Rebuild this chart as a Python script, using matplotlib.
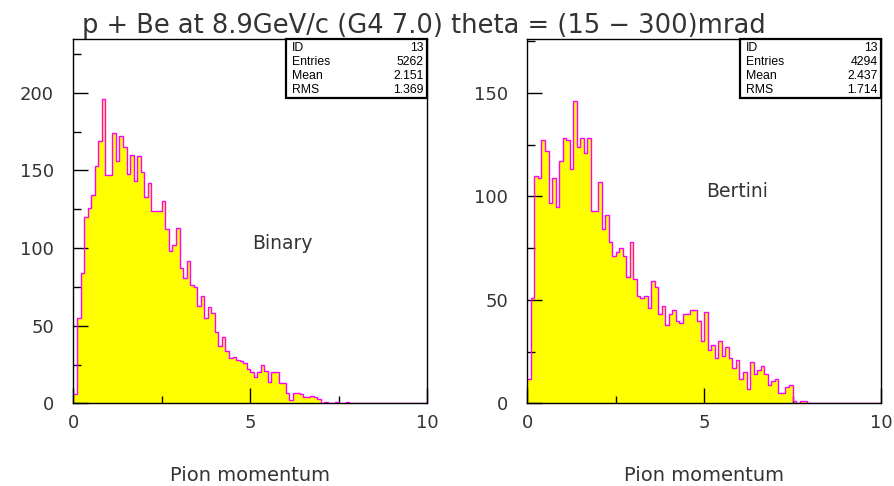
import matplotlib
matplotlib.use("Agg")
import matplotlib.pyplot as plt
import numpy as np
from matplotlib.patches import Rectangle
from matplotlib.ticker import MultipleLocator

edges = np.linspace(0, 10, 101)

# Binary cascade, counts per 0.1 GeV/c bin
binary_counts = [
    6, 55, 84, 120, 126, 134, 153, 169, 196, 147,
    147, 174, 156, 172, 165, 148, 160, 143, 159, 149,
    133, 142, 124, 124, 124, 130, 112, 98, 102, 113,
    87, 81, 92, 76, 75, 63, 69, 55, 62, 58,
    46, 37, 43, 34, 29, 30, 28, 27, 26, 22,
    20, 17, 20, 25, 21, 14, 20, 20, 13, 13,
    7, 2, 7, 7, 6, 4, 4, 5, 4, 3,
    0, 1, 0, 0, 1, 0, 0, 1, 0, 0,
] + [0] * 20

# Bertini cascade
bertini_counts = [
    12, 51, 110, 109, 127, 122, 97, 109, 95, 117,
    128, 127, 113, 146, 124, 128, 121, 128, 93, 93,
    107, 84, 91, 78, 71, 73, 75, 71, 61, 78,
    60, 52, 51, 52, 46, 59, 56, 43, 47, 38,
    43, 45, 40, 39, 43, 43, 45, 45, 40, 30,
    44, 26, 28, 22, 30, 23, 27, 22, 17, 21,
    12, 15, 7, 20, 14, 16, 18, 14, 9, 11,
    12, 5, 5, 8, 9, 1, 0, 1, 1, 0,
] + [0] * 20

stats_binary = ["13", "5262", "2.151", "1.369"]
stats_bertini = ["13", "4294", "2.437", "1.714"]
stat_names = ["ID", "Entries", "Mean", "RMS"]

fig = plt.figure(figsize=(8.94, 4.86), dpi=100)
ax1 = fig.add_axes([0.0822, 0.170, 0.3954, 0.749])
ax2 = fig.add_axes([0.5898, 0.170, 0.3956, 0.749])

panels = [
    (ax1, binary_counts, 234.4, "Binary", stats_binary),
    (ax2, bertini_counts, 175.8, "Bertini", stats_bertini),
]

for ax, counts, ytop, label, stats in panels:
    ax.stairs(counts, edges, fill=True, color="#ffff00", zorder=1)
    ax.stairs(counts, edges, baseline=None, color="#ff00ff", lw=1.0, zorder=2)
    ax.set_xlim(0, 10)
    ax.set_ylim(0, ytop)
    ax.xaxis.set_major_locator(MultipleLocator(5))
    ax.xaxis.set_minor_locator(MultipleLocator(2.5))
    ax.yaxis.set_major_locator(MultipleLocator(50))
    ax.yaxis.set_minor_locator(MultipleLocator(25))
    ax.tick_params(which="both", direction="in", color="black", width=1.0,
                   labelsize=13, labelcolor="#333333")
    ax.tick_params(which="major", length=10.8)
    ax.tick_params(which="minor", length=5.4)
    ax.tick_params(axis="y", pad=14)
    ax.tick_params(axis="x", pad=8)
    ax.xaxis.set_major_formatter(matplotlib.ticker.FormatStrFormatter("%g"))
    for s in ax.spines.values():
        s.set_linewidth(1.0)
        s.set_zorder(5)
    ax.set_xlabel("Pion momentum", fontsize=14, color="#333333", labelpad=24)
    ax.text(5.05, 99.5, label, fontsize=13.5, color="#333333")

    # stat box
    ax.add_patch(Rectangle((0.602, 0.8396), 0.398, 0.1604, transform=ax.transAxes,
                           facecolor="white", edgecolor="black", lw=1.6,
                           zorder=6, clip_on=False))
    for yy, name, val in zip([0.975, 0.937, 0.898, 0.861], stat_names, stats):
        ax.text(0.618, yy, name, transform=ax.transAxes, fontsize=8.8,
                family="Liberation Sans", va="center", ha="left", zorder=7)
        ax.text(0.99, yy, val, transform=ax.transAxes, fontsize=8.8,
                family="Liberation Sans", va="center", ha="right", zorder=7)

fig.text(424 / 894, 1 - 33 / 486, "p + Be at 8.9GeV/c (G4 7.0) theta = (15 \u2212 300)mrad",
         fontsize=18.5, color="#333333", ha="center", va="baseline")

fig.savefig("out.png", dpi=100)
